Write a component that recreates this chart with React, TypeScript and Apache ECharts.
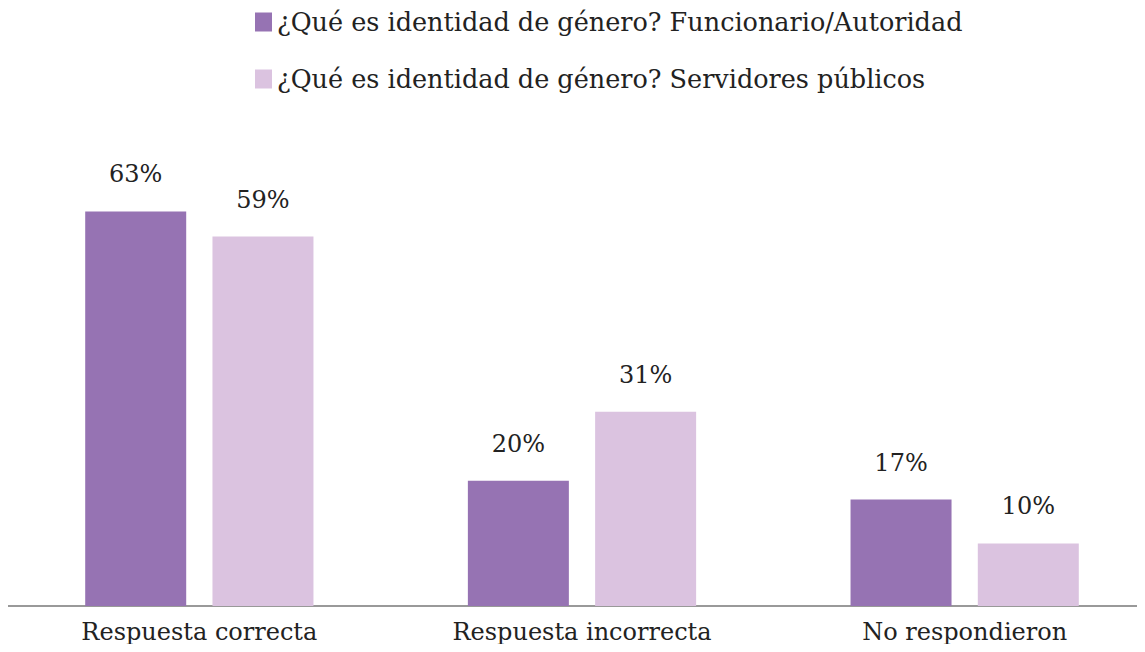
import React, { useEffect, useRef } from "react";
import * as echarts from "echarts";

const categories = ["Respuesta correcta", "Respuesta incorrecta", "No respondieron"];
const seriesNames = [
  "¿Qué es identidad de género? Funcionario/Autoridad",
  "¿Qué es identidad de género? Servidores públicos",
];
const funcionarioValues = [63, 20, 17];
const servidoresValues = [59, 31, 10];

const FONT = "'DejaVu Serif', serif";

export default function App() {
  const ref = useRef<HTMLDivElement>(null);
  useEffect(() => {
    if (!ref.current) return;
    const chart = echarts.init(ref.current, undefined, { renderer: "svg" });
    const label = {
      show: true,
      position: "top" as const,
      distance: 25,
      formatter: "{c}%",
      fontFamily: FONT,
      fontSize: 24,
      color: "#222",
    };
    chart.setOption({
      animation: false,
      backgroundColor: "#fff",
      legend: {
        orient: "vertical",
        left: 250,
        top: 4,
        itemWidth: 17,
        itemHeight: 19,
        itemGap: 31,
        icon: "rect",
        textStyle: { fontFamily: FONT, fontSize: 25.5, color: "#222" },
        data: seriesNames,
      },
      grid: { left: 8, top: 105, width: 1148, bottom: 46, outerBoundsMode: "none", containLabel: false },
      xAxis: {
        type: "category",
        data: categories,
        axisLine: { lineStyle: { color: "#999", width: 2 } },
        axisTick: { show: false },
        axisLabel: { fontFamily: FONT, fontSize: 24, color: "#222", margin: 14 },
      },
      yAxis: { type: "value", min: 0, max: 80, show: false, splitLine: { show: false } },
      series: [
        {
          name: seriesNames[0],
          type: "bar",
          data: funcionarioValues,
          barWidth: 101,
          barGap: "26%",
          itemStyle: { color: "#9673b3" },
          label,
        },
        {
          name: seriesNames[1],
          type: "bar",
          data: servidoresValues,
          barWidth: 101,
          barGap: "26%",
          itemStyle: { color: "#dbc3e0" },
          label,
        },
      ],
    });
    return () => chart.dispose();
  }, []);
  return <div ref={ref} style={{ width: 1145, height: 652, margin: -8 }} />;
}
